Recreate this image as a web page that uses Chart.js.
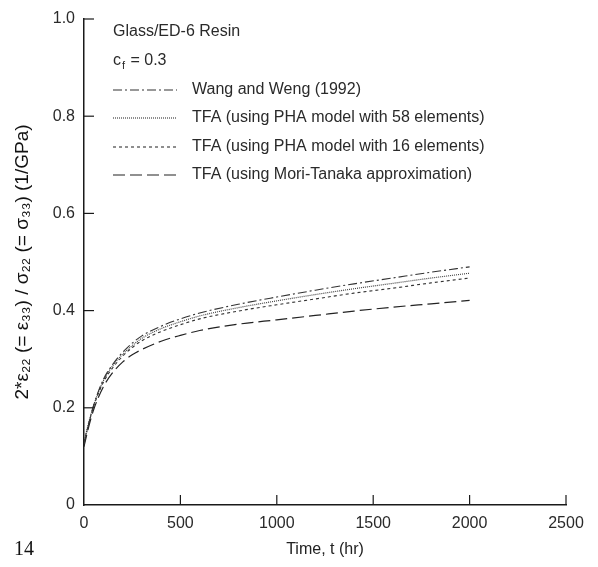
<!DOCTYPE html>
<html>
<head>
<meta charset="utf-8">
<script src="https://cdn.jsdelivr.net/npm/chart.js@4.4.1/dist/chart.umd.min.js"></script>
<style>
  html, body { margin: 0; padding: 0; background: #fff; }
  #wrap { width: 598px; height: 567px; }
</style>
</head>
<body>
<div id="wrap"><canvas id="creepChart" width="598" height="567"></canvas></div>
<script>
// time points (hr)
const times = [0, 25, 50, 100, 150, 200, 250, 300, 400, 500, 600, 800, 1000, 1200, 1400, 1600, 1800, 2000];

// compliance 2*e22/s22 (1/GPa)
const wangWeng = [0.125, 0.168, 0.205, 0.258, 0.290, 0.314, 0.333, 0.348, 0.368, 0.383, 0.395, 0.413, 0.428, 0.442, 0.455, 0.467, 0.479, 0.490];
const pha58 = [0.13, 0.17, 0.205, 0.255, 0.287, 0.310, 0.328, 0.343, 0.363, 0.377, 0.389, 0.406, 0.420, 0.433, 0.445, 0.456, 0.467, 0.477];
const pha16 = [0.13, 0.168, 0.203, 0.252, 0.283, 0.306, 0.324, 0.338, 0.357, 0.371, 0.383, 0.399, 0.412, 0.424, 0.436, 0.446, 0.457, 0.467];
const moriTanaka = [0.12, 0.162, 0.196, 0.243, 0.273, 0.294, 0.309, 0.320, 0.337, 0.349, 0.359, 0.372, 0.381, 0.390, 0.399, 0.407, 0.414, 0.421];

const seriesLabels = [
    'Wang and Weng (1992)',
    'TFA (using PHA model with 58 elements)',
    'TFA (using PHA model with 16 elements)',
    'TFA (using Mori-Tanaka approximation)'
];

const xTicks = [0, 500, 1000, 1500, 2000, 2500];
const yTicks = [0, 0.2, 0.4, 0.6, 0.8, 1.0];

const FONT = "'Liberation Sans', Arial, sans-serif";
const ink = '#1a1a1a';

function pts(vals) {
    return times.map((t, i) => ({ x: t, y: vals[i] }));
}

function lineSet(label, vals, dash, color, width) {
    return {
        label: label,
        data: pts(vals),
        borderColor: color,
        borderWidth: width,
        borderDash: dash,
        pointRadius: 0,
        fill: false,
        cubicInterpolationMode: 'monotone'
    };
}

// inward ticks + caption text inside the plot
const paperDecor = {
    id: 'paperDecor',
    afterDraw(chart) {
        const ctx = chart.ctx;
        const xs = chart.scales.x, ys = chart.scales.y;
        const area = chart.chartArea;
        ctx.save();
        ctx.strokeStyle = ink;
        ctx.lineWidth = 1.2;
        yTicks.forEach(v => {
            if (v === 0) return;
            const py = ys.getPixelForValue(v);
            ctx.beginPath();
            ctx.moveTo(area.left, py);
            ctx.lineTo(area.left + 10, py);
            ctx.stroke();
        });
        xTicks.forEach(v => {
            if (v === 0) return;
            const px = xs.getPixelForValue(v);
            ctx.beginPath();
            ctx.moveTo(px, area.bottom);
            ctx.lineTo(px, area.bottom - 10);
            ctx.stroke();
        });

        // caption
        ctx.fillStyle = '#2a2a2a';
        ctx.textBaseline = 'middle';
        ctx.textAlign = 'left';
        ctx.font = '16px ' + FONT;
        ctx.fillText('Glass/ED-6 Resin', 113, 32);
        ctx.fillText('c', 113, 61);
        const cw = ctx.measureText('c').width;
        ctx.font = '11px ' + FONT;
        ctx.fillText('f', 113 + cw + 1, 66);
        ctx.font = '16px ' + FONT;
        ctx.fillText(' = 0.3', 113 + cw + 5, 61);

        // legend rows
        const rowY = [90, 118, 147, 175];
        chart.data.datasets.forEach((ds, i) => {
            const y = rowY[i];
            ctx.save();
            ctx.strokeStyle = ds.borderColor;
            ctx.lineWidth = ds.borderWidth;
            ctx.setLineDash(ds.borderDash || []);
            ctx.beginPath();
            ctx.moveTo(113, y);
            ctx.lineTo(177, y);
            ctx.stroke();
            ctx.restore();
            ctx.font = '16px ' + FONT;
            ctx.fillText(ds.label, 192, y);
        });

        // page number
        ctx.font = '20px "Liberation Serif", "Times New Roman", serif';
        ctx.fillStyle = '#111';
        ctx.fillText('14', 14, 550);
        ctx.restore();
    }
};

const ctx = document.getElementById('creepChart').getContext('2d');
const chart = new Chart(ctx, {
    type: 'line',
    data: {
        datasets: [
            lineSet(seriesLabels[0], wangWeng, [9, 3, 2, 3], '#333', 1.1),
            lineSet(seriesLabels[1], pha58, [1, 1], '#444', 1.2),
            lineSet(seriesLabels[2], pha16, [3, 3], '#333', 1.1),
            lineSet(seriesLabels[3], moriTanaka, [12, 5], '#222', 1.2)
        ]
    },
    options: {
        responsive: false,
        animation: false,
        layout: { padding: { left: 0, right: 32, top: 19, bottom: 0 } },
        plugins: {
            legend: { display: false },
            tooltip: { enabled: false }
        },
        scales: {
            x: {
                type: 'linear',
                min: 0,
                max: 2500,
                afterFit: s => { s.height = 62; },
                afterBuildTicks: s => { s.ticks = xTicks.map(v => ({ value: v })); },
                grid: { display: true, drawOnChartArea: false, drawTicks: false },
                border: { display: true, color: ink, width: 1.5 },
                ticks: {
                    color: '#2a2a2a',
                    font: { family: FONT, size: 16 },
                    padding: 9,
                    maxRotation: 0,
                    callback: v => String(v)
                },
                title: {
                    display: true,
                    text: 'Time, t (hr)',
                    color: '#222',
                    font: { family: FONT, size: 16 },
                    padding: { top: 0, bottom: 8 }
                }
            },
            y: {
                min: 0,
                max: 1.0,
                afterFit: s => { s.width = 84; },
                afterBuildTicks: s => { s.ticks = yTicks.map(v => ({ value: v })); },
                grid: { display: true, drawOnChartArea: false, drawTicks: false },
                border: { display: true, color: ink, width: 1.5 },
                ticks: {
                    color: '#2a2a2a',
                    font: { family: FONT, size: 16 },
                    padding: 9,
                    callback: v => v === 0 ? '0' : v.toFixed(1)
                },
                title: {
                    display: true,
                    text: '2*ε₂₂ (= ε₃₃) / σ₂₂ (= σ₃₃) (1/GPa)',
                    color: '#111',
                    font: { family: FONT, size: 19 },
                    padding: { top: 11, bottom: 0 }
                }
            }
        }
    },
    plugins: [paperDecor]
});
</script>
</body>
</html>
